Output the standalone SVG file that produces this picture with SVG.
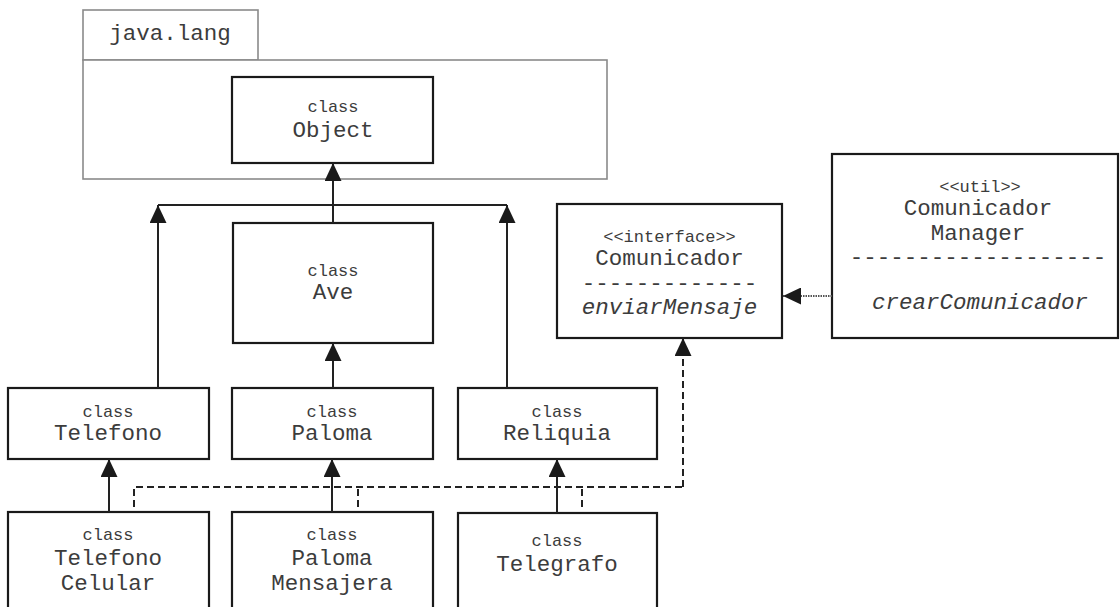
<svg xmlns="http://www.w3.org/2000/svg" width="1120" height="607" viewBox="0 0 1120 607">
<style>
text{font-family:"Liberation Mono","Courier New",monospace;fill:#3c3c3c;text-anchor:middle}
.s{font-size:17px}
.n{font-size:22.5px}
.i{font-style:italic}
.box{fill:#fff;stroke:#1a1a1a;stroke-width:2.2}
.pkg{fill:#fff;stroke:#8a8a8a;stroke-width:1.6}
.ln{fill:none;stroke:#222;stroke-width:2}
.dash{fill:none;stroke:#222;stroke-width:2;stroke-dasharray:7 4}
.dot{fill:none;stroke:#555;stroke-width:2;stroke-dasharray:1.5 1}
</style>
<defs>
<marker id="ah" markerUnits="userSpaceOnUse" markerWidth="18" markerHeight="17" refX="18" refY="8.5" orient="auto">
<path d="M0,0 L18,8.5 L0,17 z" fill="#1a1a1a"/>
</marker>
</defs>
<g id="java.lang">
<rect class="pkg" x="83" y="10" width="175" height="50"/>
<rect class="pkg" x="83" y="60" width="524" height="119"/>
<text class="n" x="170" y="40">java.lang</text>
</g>
<g id="Object">
<rect class="box" x="232" y="77" width="201" height="86"/>
<text class="s" x="333" y="112">class</text>
<text class="n" x="333" y="137">Object</text>
</g>
<g id="Ave">
<rect class="box" x="233" y="223" width="200" height="120"/>
<text class="s" x="333" y="276">class</text>
<text class="n" x="333" y="299">Ave</text>
</g>
<g id="Comunicador">
<rect class="box" x="557" y="204" width="225" height="134"/>
<text class="s" x="669.5" y="242">&lt;&lt;interface&gt;&gt;</text>
<text class="n" x="669.5" y="265">Comunicador</text>
<text class="n" x="669.5" y="290">-------------</text>
<text class="n i" x="669.5" y="314">enviarMensaje</text>
</g>
<g id="ComunicadorManager">
<rect class="box" x="832" y="154" width="286" height="184"/>
<text class="s" x="980" y="192">&lt;&lt;util&gt;&gt;</text>
<text class="n" x="978" y="215">Comunicador</text>
<text class="n" x="978" y="240">Manager</text>
<text class="n" x="978" y="264">-------------------</text>
<text class="n i" x="980" y="309">crearComunicador</text>
</g>
<g id="Telefono">
<rect class="box" x="8" y="388" width="201" height="71"/>
<text class="s" x="108" y="417">class</text>
<text class="n" x="108" y="440">Telefono</text>
</g>
<g id="Paloma">
<rect class="box" x="232" y="388" width="201" height="71"/>
<text class="s" x="332" y="417">class</text>
<text class="n" x="332" y="440">Paloma</text>
</g>
<g id="Reliquia">
<rect class="box" x="458" y="388" width="199" height="71"/>
<text class="s" x="557" y="417">class</text>
<text class="n" x="557" y="440">Reliquia</text>
</g>
<g id="TelefonoCelular">
<rect class="box" x="8" y="512" width="201" height="110"/>
<text class="s" x="108" y="540">class</text>
<text class="n" x="108" y="565">Telefono</text>
<text class="n" x="108" y="590">Celular</text>
</g>
<g id="PalomaMensajera">
<rect class="box" x="232" y="512" width="201" height="110"/>
<text class="s" x="332" y="540">class</text>
<text class="n" x="332" y="565">Paloma</text>
<text class="n" x="332" y="590">Mensajera</text>
</g>
<g id="Telegrafo">
<rect class="box" x="458" y="513" width="199" height="110"/>
<text class="s" x="557" y="546">class</text>
<text class="n" x="557" y="571">Telegrafo</text>
</g>
<g id="connectors">
<path class="ln" d="M333,223 V163" marker-end="url(#ah)"/>
<path class="ln" d="M158,205 H507"/>
<path class="ln" d="M158,388 V205" marker-end="url(#ah)"/>
<path class="ln" d="M507,388 V205" marker-end="url(#ah)"/>
<path class="ln" d="M333,388 V343" marker-end="url(#ah)"/>
<path class="ln" d="M109,512 V459" marker-end="url(#ah)"/>
<path class="ln" d="M332,512 V459" marker-end="url(#ah)"/>
<path class="ln" d="M557,513 V459" marker-end="url(#ah)"/>
<path class="dash" d="M134,507 V487 H683"/>
<path class="dash" d="M358,507 V487"/>
<path class="dash" d="M582,507 V487"/>
<path class="dash" d="M683,487 V338" marker-end="url(#ah)"/>
<path class="dot" d="M832,296 H783" marker-end="url(#ah)"/>
</g>
</svg>
